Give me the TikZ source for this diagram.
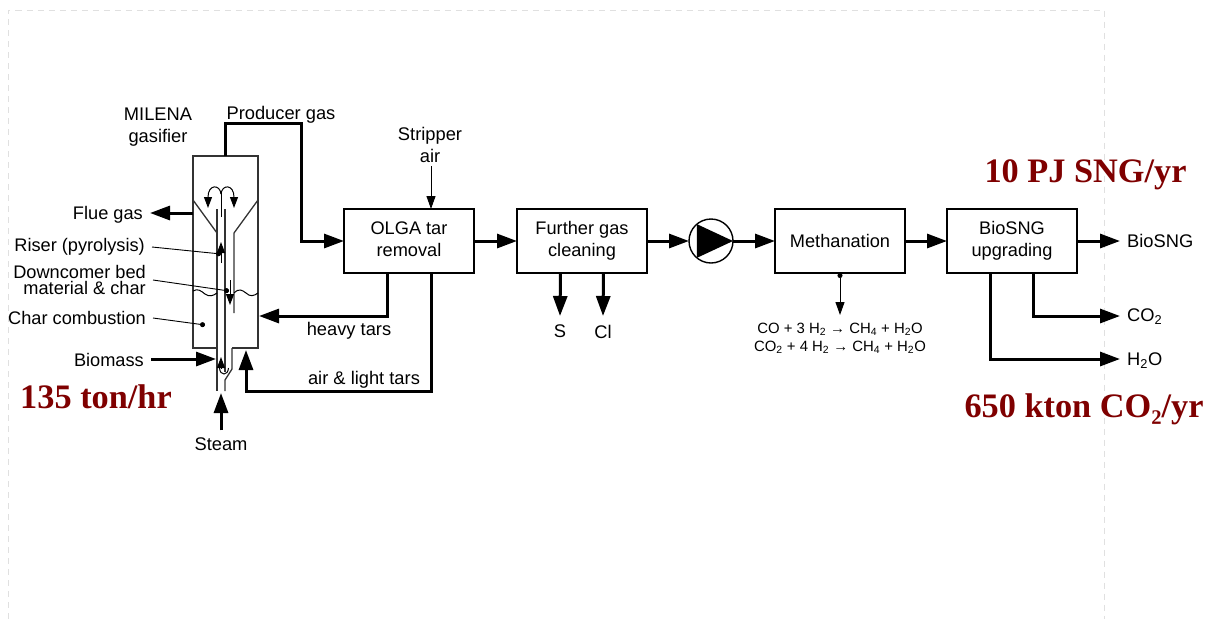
\documentclass[tikz,border=0pt]{standalone}
\usepackage{fontspec}
\setmainfont{Liberation Sans}
\newfontfamily\headfont{Liberation Serif}
\usetikzlibrary{arrows.meta,positioning}

\definecolor{darkred}{HTML}{7F0000}

\begin{document}
\begin{tikzpicture}[
    x=1pt, y=-1pt,
    box/.style={
        rectangle, draw, line width=1.4pt, outer sep=0pt,
        minimum width=130pt, minimum height=64pt,
        align=center, font=\fontsize{18.2}{22}\selectfont
    },
    lbl/.style={inner sep=0pt, align=center, font=\fontsize{18.3}{21.5}\selectfont},
    sidelbl/.style={anchor=east, inner ysep=0pt, inner xsep=7pt, align=right, font=\fontsize{18.2}{16}\selectfont},
    eqn/.style={inner sep=0pt, font=\fontsize{14.9}{18}\selectfont},
    total/.style={inner sep=0pt, text=darkred, font=\headfont\fontsize{34.3}{36}\selectfont\bfseries},
    flow/.style={-{Triangle[length=20pt,width=14pt]}, line width=3pt},
    feed/.style={-{Triangle[length=13pt,width=9pt]}, line width=1pt},
    wall/.style={line width=1.3pt, black!80},
    leader/.style={{Circle[length=5pt]}-, line width=0.9pt},
    innerarr/.style={-{Triangle[length=11pt,width=8pt]}, line width=1pt}
]
    \useasboundingbox (0,0) rectangle (1209,619);
    \draw[black!12, line width=1pt, dash pattern=on 6pt off 5pt] (8.5,619) -- (8.5,10) -- (1104,10) -- (1104,619);

    % process train
    \node[box] (olga) at (409,241) {\strut OLGA tar\\\strut removal};
    \node[box, right=43pt of olga] (further) {\strut Further gas\\\strut cleaning};
    \node[circle, draw, line width=1.4pt, minimum size=44pt, inner sep=0pt, outer sep=0pt, right=42pt of further] (pump) {};
    \node[box, right=42pt of pump] (methanation) {Methanation};
    \node[box, right=42pt of methanation] (upgrading) {\strut BioSNG\\\strut upgrading};
    \fill (pump.130) -- (pump.east) -- (pump.230) -- cycle;

    % gasifier vessel
    \draw[wall, line width=1.5pt] (217,348) -- (193,348) -- (193,156) -- (258,156) -- (258,348) -- (232,348);
    \draw[wall] (193,200) -- (217,233);
    \draw[wall] (258,200) -- (234,233) -- (234,313);
    \draw[wall] (217,209) -- (217,391);
    \draw[wall] (225,209) -- (225,372);
    \draw[wall] (232,348) -- (232,369) -- (225,380) -- (225,391);
    \draw[line width=1pt] (219.5,368) .. controls (220,376) and (228,376) .. (228.5,368);
    \draw[line width=1pt] (193,291) .. controls (198,288) and (201,291) .. (205,294) .. controls (209,297) and (213,296) .. (217,293);
    \draw[line width=1pt] (234,293) .. controls (239,288) and (242,290) .. (246,293) .. controls (250,297) and (254,296) .. (258,293);
    % bed circulation
    \draw[line width=1pt] (221,217) -- (221,192);
    \draw[innerarr] (221,194) .. controls (220,184) and (208,184) .. (208,208);
    \draw[innerarr] (221,194) .. controls (222,184) and (234,184) .. (234,208);
    \draw[innerarr] (221,263) -- (221,242);
    \draw[innerarr] (230,280) -- (230,305);
    \draw[innerarr] (221,369) -- (221,357);

    \coordinate (riserdot) at (221,254);
    \coordinate (downdot) at (229,291);
    \coordinate (chardot) at (205,325);
    \coordinate (gastop) at (225,156);
    \coordinate (gasflue) at (193,213);
    \coordinate (gasbiomass) at (216,359);
    \coordinate (gasheavy) at (259,316);
    \coordinate (gasair) at (246,350);
    \coordinate (gassteam) at (221,393);
    \coordinate (prodbend) at (301,123);
    \coordinate (strippertip) at (431,166);

    % labels gasifier
    \node[lbl] (milena) at (158,127) {MILENA\\gasifier};
    \node[lbl] (prodlabel) at (281,115) {Producer gas};
    \node[sidelbl] (flue) at (150,215) {Flue gas};
    \node[sidelbl] (riser) at (152,247) {Riser (pyrolysis)};
    \node[sidelbl] (downcomer) at (153,280) {Downcomer bed\\material \& char};
    \node[sidelbl] (charcomb) at (153,318) {Char combustion};
    \node[sidelbl] (biomass) at (151,360) {Biomass};
    \node[lbl] (steam) at (221,444) {Steam};
    \node[lbl] (heavy) at (349,331) {heavy tars};
    \node[lbl] (airlight) at (364,380) {air \& light tars};
    \node[lbl] (stripper) at (430,145) {Stripper\\air};

    \coordinate (sulfurin) at (560,316);
    \coordinate (chlorin) at (603,316);
    \node[lbl, below=9pt of sulfurin] (sulfur) {S};
    \node[lbl, below=9pt of chlorin] (chlorine) {Cl};
    \coordinate (reactin) at (840,315);
    \node[eqn, below=8pt of reactin] (eqone) {CO + 3 H\textsubscript{2} → CH\textsubscript{4} + H\textsubscript{2}O};
    \node[eqn, below=4.5pt of eqone] (eqtwo) {CO\textsubscript{2} + 4 H\textsubscript{2} → CH\textsubscript{4} + H\textsubscript{2}O};

    \node[lbl, anchor=west] (bionode) at (1127,241) {BioSNG};
    \node[lbl, anchor=west] (conode) at (1127,317) {CO\textsubscript{2}};
    \node[lbl, anchor=west] (waternode) at (1127,360.5) {H\textsubscript{2}O};
    \coordinate (bioend) at (1120,241);
    \coordinate (coend) at (1120,316);
    \coordinate (waterend) at (1120,359);

    \node[total] (biomassrate) at (96,397) {135 ton/hr};
    \node[total] (sngrate) at (1085.5,175) {10 PJ SNG/yr};
    \node[total] (corate) at (1084,409) {650 kton CO₂/yr};

    % connectors
    \draw[leader] (riserdot) -- (riser.east);
    \draw[leader] (downdot) -- (downcomer.east);
    \draw[leader] (chardot) -- (charcomb.east);
    \draw[flow] (gasflue) -- (flue.east |- gasflue);
    \draw[flow] (biomass.east |- gasbiomass) -- (gasbiomass);
    \draw[flow] ([yshift=7pt]steam.north) -- (gassteam);
    \draw[flow] (gastop) |- (prodbend) |- (olga.west);
    \draw[feed] (strippertip) -- (olga.north -| strippertip);
    \draw[flow] ([xshift=-22pt]olga.south) |- (gasheavy);
    \draw[flow] ([xshift=22pt]olga.south) |- (300,391) -| (gasair);
    \draw[flow] (olga) -- (further);
    \draw[flow] (further) -- (pump);
    \draw[flow] (pump) -- (methanation);
    \draw[flow] (methanation) -- (upgrading);
    \draw[flow] ([xshift=-21.5pt]further.south) -- (sulfurin);
    \draw[flow] ([xshift=21.5pt]further.south) -- (chlorin);
    \draw[{Circle[length=5pt]}-{Triangle[length=13pt,width=9pt]}, line width=1pt] (methanation.south) -- (methanation.south |- reactin);
    \draw[flow] (upgrading) -- (bioend);
    \draw[flow] ([xshift=21.5pt]upgrading.south) |- (coend);
    \draw[flow] ([xshift=-21.5pt]upgrading.south) |- (waterend);
\end{tikzpicture}
\end{document}
